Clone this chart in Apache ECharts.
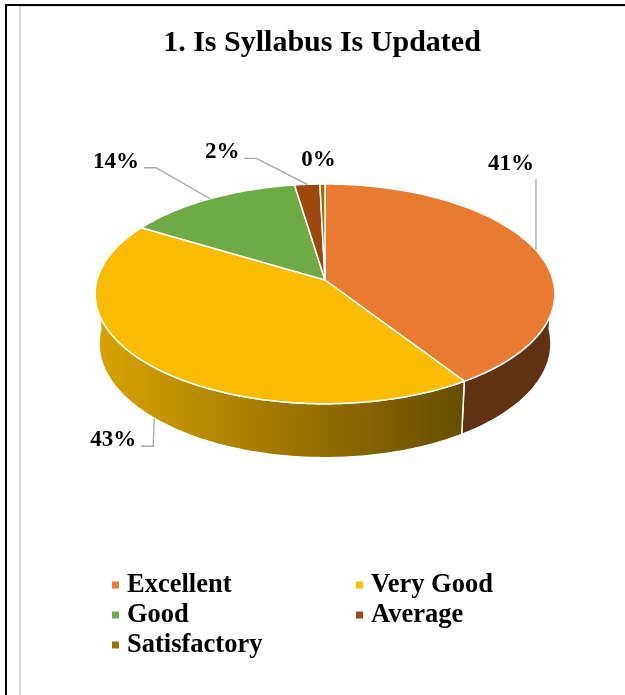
<!DOCTYPE html>
<html>
<head>
<meta charset="utf-8">
<script src="https://cdn.jsdelivr.net/npm/echarts@6/dist/echarts.min.js"></script>
<style>
  html, body { margin: 0; padding: 0; background: #fff; }
  #wrap { position: relative; width: 625px; height: 695px; overflow: hidden; }
  .frame-outer { position: absolute; left: 5px; top: 4px; right: 0; bottom: 0; border-left: 2px solid #000; border-top: 2px solid #000; }
  .frame-inner { position: absolute; left: 19px; top: 6px; right: 0; bottom: 0; border-left: 2px solid #d9d9d9; border-top: 1px solid #d9d9d9; }
  #chart { position: absolute; left: 0; top: 0; width: 625px; height: 695px; }
</style>
</head>
<body>
<div id="wrap">
  <div class="frame-outer"></div>
  <div class="frame-inner"></div>
  <div id="chart"></div>
</div>
<script>
const categories = ['Excellent', 'Very Good', 'Good', 'Average', 'Satisfactory'];
const responses = [102, 107, 35, 5, 1];
const colors = ['#ED7D31', '#FFC000', '#70AD47', '#9E480E', '#997300'];

// where each percentage label sits, relative to its slice anchor (px)
const labelOffsets = [[-25, -86], [-41, 22], [-94, -37], [-85, -32], [-4, -24]];

const FONT = '"Liberation Serif", "Times New Roman", serif';
const total = responses.reduce((a, b) => a + b, 0);

// start / end angle of each slice, clockwise from the far (top) point
const slices = [];
let acc = 0;
responses.forEach(v => {
    slices.push([acc / total * 2 * Math.PI, (acc + v) / total * 2 * Math.PI]);
    acc += v;
});

// simple perspective view of a tilted disc
const view = { cx: 325, cy: 280, scale: 228, tilt: 28.3 * Math.PI / 180, dist: 6.98, depth: 0.25 };

function project(theta, r, h) {
    const X = r * Math.sin(theta), Z = r * Math.cos(theta);
    const s = Math.sin(view.tilt), c = Math.cos(view.tilt);
    const v = Z * s + h * c;
    const d = 1 + (Z * c - h * s) / view.dist;
    return [view.cx + view.scale * X / d, view.cy - view.scale * v / d];
}

// side wall gets darker towards the right like the office shading
function shadeAt(theta) {
    const deg = theta * 180 / Math.PI;
    return 0.40 + 0.45 * Math.min(1, Math.max(0, (deg - 150) / 110));
}

function shadeColor(hex, f) {
    const n = parseInt(hex.slice(1), 16);
    const r = Math.round(((n >> 16) & 255) * f);
    const g = Math.round(((n >> 8) & 255) * f);
    const b = Math.round((n & 255) * f);
    return 'rgb(' + r + ',' + g + ',' + b + ')';
}

const ctx = document.createElement('canvas').getContext('2d');
function textWidth(txt, font) {
    ctx.font = font;
    return ctx.measureText(txt).width;
}

function renderSlice(i) {
    return function (params, api) {
        const a0 = slices[i][0], a1 = slices[i][1];
        const step = Math.PI / 180;
        const children = [];

        // outer wall, only the part facing us
        const w0 = Math.max(a0, Math.PI / 2), w1 = Math.min(a1, 3 * Math.PI / 2);
        if (w1 > w0) {
            const m = Math.max(2, Math.ceil((w1 - w0) / step));
            const upper = [], lower = [];
            for (let k = 0; k <= m; k++) {
                const t = w0 + (w1 - w0) * k / m;
                upper.push(project(t, 1, 0));
                lower.push(project(t, 1, -view.depth));
            }
            const pts = upper.concat(lower.reverse());
            const xs = pts.map(p => p[0]);
            children.push({
                type: 'polygon',
                z2: 1,
                shape: { points: pts },
                style: {
                    fill: {
                        type: 'linear', x: Math.min(...xs), y: 0, x2: Math.max(...xs), y2: 0, global: true,
                        colorStops: [
                            { offset: 0, color: shadeColor(colors[i], shadeAt(w1)) },
                            { offset: 1, color: shadeColor(colors[i], shadeAt(w0)) }
                        ]
                    },
                    stroke: '#fff', lineWidth: 1.5, lineJoin: 'round'
                }
            });
        }

        // top face, very slightly dimmed like the original
        const n = Math.max(2, Math.ceil((a1 - a0) / step));
        const top = [project(0, 0, 0)];
        for (let k = 0; k <= n; k++) top.push(project(a0 + (a1 - a0) * k / n, 1, 0));
        children.push({
            type: 'polygon',
            z2: 5,
            shape: { points: top },
            style: { fill: shadeColor(colors[i], 0.98), stroke: '#fff', lineWidth: 1.5, lineJoin: 'round' }
        });

        // percentage label + leader
        const mid = (a0 + a1) / 2;
        const front = mid > Math.PI / 2 && mid < 3 * Math.PI / 2;
        const anchor = project(mid, 1, front ? -view.depth : 0);
        const txt = Math.round(api.value(0) / total * 100) + '%';
        const font = 'bold 23px ' + FONT;
        const tx = anchor[0] + labelOffsets[i][0], ty = anchor[1] + labelOffsets[i][1];
        const tw = textWidth(txt, font);
        const left = tx - tw / 2, right = tx + tw / 2;
        let line = null;
        if (anchor[0] >= left - 6 && anchor[0] <= right + 6) {
            const y0 = ty + 15;
            if (anchor[1] - y0 > 12) line = [[anchor[0], y0], anchor];
        } else if (anchor[0] > right) {
            line = [[right + 5, ty + 6], [right + 17, ty + 6], anchor];
        } else {
            line = [[left - 5, ty + 6], [left - 17, ty + 6], anchor];
        }
        if (line) {
            children.push({
                type: 'polyline', z2: 8,
                shape: { points: line },
                style: { stroke: '#A6A6A6', lineWidth: 1.3, fill: null }
            });
        }
        children.push({
            type: 'text', z2: 10,
            style: { text: txt, x: tx, y: ty, font: font, fill: '#000', align: 'center', verticalAlign: 'middle' }
        });

        return { type: 'group', children: children };
    };
}

const legendText = { fontFamily: FONT, fontWeight: 'bold', fontSize: 26.5, color: '#000', lineHeight: 30, padding: [0, 0, 0, 3] };

const chart = echarts.init(document.getElementById('chart'));
const option = {
    animation: false,
    title: {
        text: '1. Is Syllabus Is Updated',
        left: 322, top: 28, textAlign: 'center', padding: 0,
        textStyle: { fontFamily: FONT, fontWeight: 'bold', fontSize: 30, color: '#000' }
    },
    legend: [
        {
            data: [categories[0], categories[2], categories[4]],
            orient: 'vertical', left: 112, top: 570, padding: 0, itemGap: 0,
            icon: 'rect', itemWidth: 7, itemHeight: 7, selectedMode: false,
            textStyle: legendText
        },
        {
            data: [categories[1], categories[3]],
            orient: 'vertical', left: 356, top: 570, padding: 0, itemGap: 0,
            icon: 'rect', itemWidth: 7, itemHeight: 7, selectedMode: false,
            textStyle: legendText
        }
    ],
    series: categories.map((name, i) => ({
        type: 'custom',
        name: name,
        coordinateSystem: 'none',
        itemStyle: { color: colors[i] },
        renderItem: renderSlice(i),
        data: [responses[i]]
    }))
};
chart.setOption(option);
</script>
</body>
</html>
